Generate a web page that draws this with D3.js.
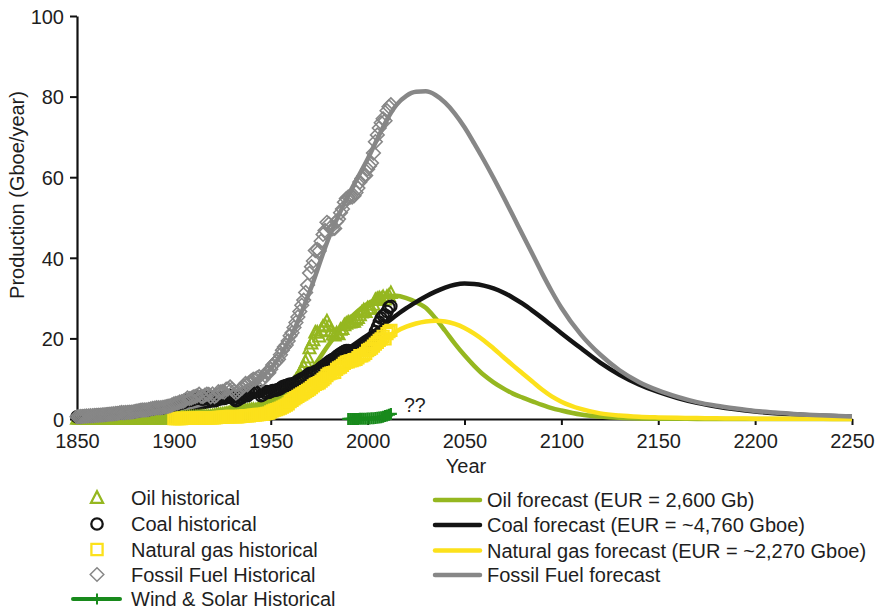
<!DOCTYPE html>
<html>
<head>
<meta charset="utf-8">
<script src="https://cdn.jsdelivr.net/npm/d3@7"></script>
<style>
  html, body { margin: 0; padding: 0; background: #fff; }
  svg text { font-family: "Liberation Sans", Arial, Helvetica, sans-serif; fill: #1e1e1e; }
</style>
</head>
<body>
<svg id="chart" width="880" height="612"></svg>
<script>
// ---------- Historical production, one value per year (Gboe/year) ----------
const histStart = 1850;   // oil, coal and fossil series start here
const gasStart = 1900;    // natural gas series starts here
const windStart = 1990;   // wind & solar series starts here

const oilHist = [
  0,0,0,0,0,0,0,0,0,0.001,
  0.001,0.002,0.003,0.003,0.002,0.003,0.004,0.003,0.004,0.004,
  0.006,0.006,0.007,0.011,0.012,0.011,0.011,0.015,0.018,0.024,
  0.03,0.03,0.03,0.03,0.03,0.04,0.05,0.05,0.05,0.06,
  0.08,0.09,0.09,0.09,0.09,0.10,0.11,0.12,0.12,0.13,
  0.15,0.17,0.18,0.19,0.22,0.22,0.21,0.26,0.29,0.30,
  0.33,0.34,0.35,0.38,0.41,0.43,0.46,0.50,0.50,0.56,
  0.69,0.76,0.86,1.02,1.01,1.07,1.10,1.26,1.32,1.49,
  1.41,1.37,1.31,1.44,1.52,1.65,1.79,2.04,1.99,2.09,
  2.15,2.22,2.09,2.26,2.59,2.60,2.75,3.02,3.43,3.40,
  3.80,4.28,4.53,4.80,5.02,5.63,6.13,6.44,6.61,7.13,
  7.67,8.19,8.88,9.54,10.31,11.06,12.02,12.90,14.10,15.22,
  17.5,18.7,19.5,21.4,21.4,20.4,22.0,22.9,23.2,24.2,
  23.0,21.7,20.9,20.7,21.2,21.0,22.1,22.3,23.2,23.6,
  23.9,23.9,24.0,24.1,24.6,25.0,25.7,26.4,26.9,26.5,
  27.4,27.4,27.3,28.3,29.5,29.7,29.9,29.8,30.2,29.6,
  30.3,30.5,31.2
];

const coalHist = [
  0.55,0.58,0.62,0.66,0.70,0.74,0.78,0.80,0.82,0.86,
  0.90,0.93,0.97,1.00,1.05,1.10,1.15,1.20,1.25,1.30,
  1.35,1.40,1.50,1.60,1.55,1.60,1.62,1.65,1.68,1.75,
  1.85,1.95,2.05,2.15,2.20,2.20,2.20,2.30,2.45,2.55,
  2.60,2.70,2.70,2.70,2.75,2.85,2.95,3.05,3.15,3.35,
  3.50,3.60,3.65,3.90,3.95,4.10,4.40,4.80,4.60,4.70,
  4.95,5.05,5.20,5.55,5.00,4.90,5.20,5.40,5.35,4.70,
  5.20,4.50,4.70,5.35,5.30,5.30,5.10,5.65,5.60,5.85,
  5.40,4.95,4.55,4.75,5.15,5.30,5.70,6.00,5.75,6.20,
  6.5,6.7,6.8,6.9,6.8,5.8,6.0,6.5,6.8,6.6,
  6.8,7.1,7.1,7.2,7.3,7.6,8.0,8.2,8.3,8.5,
  8.7,8.6,8.8,9.1,9.4,9.7,10.0,10.1,10.5,10.9,
  11.3,11.3,11.5,11.8,11.9,12.3,12.7,13.1,13.4,13.8,
  14.2,14.5,14.8,15.0,15.5,15.9,16.2,16.5,16.8,17.0,
  17.0,16.8,16.6,16.6,16.8,17.1,17.4,17.6,17.5,17.6,
  18.3,18.8,19.2,20.4,21.7,22.8,24.0,25.0,25.6,25.8,
  26.7,27.7,28.0
];

const gasHist = [
  0.10,0.11,0.12,0.12,0.13,0.14,0.15,0.16,0.17,0.18,
  0.19,0.20,0.21,0.22,0.22,0.23,0.25,0.27,0.27,0.27,
  0.30,0.30,0.33,0.38,0.42,0.45,0.48,0.52,0.56,0.62,
  0.62,0.58,0.55,0.56,0.60,0.64,0.72,0.78,0.76,0.80,
  0.88,0.94,0.98,1.05,1.12,1.14,1.15,1.25,1.38,1.45,
  1.75,2.0,2.2,2.35,2.5,2.7,2.95,3.2,3.45,3.75,
  4.3,4.6,5.0,5.3,5.6,5.9,6.2,6.5,6.8,7.1,
  7.4,7.8,8.2,8.6,8.8,9.0,9.4,9.8,10.2,10.8,
  11.2,11.4,11.5,11.6,12.3,12.7,12.9,13.3,13.8,14.1,
  14.2,14.4,14.5,14.7,14.8,15.2,15.7,15.7,15.9,16.3,
  17.0,17.3,17.6,18.1,18.6,19.0,19.5,19.9,20.5,19.9,
  21.2,21.7,22.0
];

const fossilHist = [
  0.55,0.58,0.62,0.66,0.70,0.74,0.78,0.80,0.82,0.86,
  0.90,0.93,0.97,1.00,1.05,1.10,1.15,1.20,1.25,1.30,
  1.36,1.41,1.51,1.61,1.56,1.61,1.63,1.67,1.70,1.77,
  1.88,1.98,2.08,2.18,2.23,2.24,2.25,2.35,2.50,2.61,
  2.68,2.79,2.79,2.79,2.84,2.95,3.06,3.17,3.27,3.48,
  3.75,3.88,3.95,4.21,4.30,4.46,4.76,5.22,5.06,5.18,
  5.47,5.59,5.76,6.15,5.63,5.56,5.91,6.17,6.12,5.53,
  6.19,5.56,5.89,6.75,6.73,6.82,6.68,7.43,7.48,7.96,
  7.43,6.90,6.41,6.75,7.27,7.59,8.21,8.82,8.50,9.09,
  9.53,9.86,9.87,10.21,10.51,9.54,9.90,10.77,11.61,11.45,
  12.35,13.38,13.83,14.35,14.82,15.93,17.08,17.84,18.36,19.38,
  20.67,21.39,22.68,23.94,25.31,26.66,28.22,29.50,31.40,33.22,
  36.2,37.8,39.2,41.8,42.1,41.7,44.1,45.8,46.8,48.8,
  48.4,47.6,47.2,47.3,49.0,49.6,51.2,52.1,53.8,54.7,
  55.1,55.1,55.1,55.4,56.2,57.3,58.8,59.7,60.3,60.4,
  62.0,62.8,63.5,66.0,68.8,70.5,72.2,73.5,74.5,74.0,
  76.5,77.5,78.0
];

const windSolarHist = [
  0.01,0.01,0.02,0.02,0.03,0.03,0.04,0.05,0.07,0.08,
  0.10,0.13,0.16,0.20,0.25,0.30,0.37,0.46,0.58,0.72,
  0.88,1.05,1.25
];

// ---------- Forecast curves (Gboe/year) ----------
const forecastYears = [
  1850,1860,1870,1880,1890,1900,1910,1920,1930,1940,1950,1960,1970,1980,1990,
  2000,2005,2010,2015,2020,2025,2030,2035,2040,2045,2050,2055,2060,2065,2070,
  2075,2080,2085,2090,2095,2100,
  2110,2120,2130,2140,2150,2160,2170,2180,2190,2200,2210,2220,2230,2240,2250
];
const oilForecast = [
  0,0,0,0.02,0.05,0.12,0.25,0.5,1.0,1.8,3.3,6.3,11.5,18.5,24.5,
  28.6,29.8,30.4,30.6,30.0,29.0,27.6,25.0,21.9,18.7,15.8,13.2,10.9,9.1,7.6,
  6.3,5.3,4.4,3.5,2.7,2.1,
  1.1,0.6,0.3,0.15,0.08,0.05,0.03,0.02,0.01,0,0,0,0,0,0
];
const coalForecast = [
  0.2,0.35,0.55,0.85,1.25,1.8,2.5,3.4,4.5,5.8,7.4,9.4,11.8,14.5,17.5,
  20.8,22.3,24.0,25.8,27.5,29.0,30.4,31.6,32.6,33.3,33.6,33.5,33.1,32.4,31.4,
  30.1,28.6,26.9,25.1,23.2,21.3,
  17.6,14.0,11.0,8.6,6.7,5.2,4.0,3.1,2.4,1.85,1.45,1.15,0.9,0.72,0.58
];
const gasForecast = [
  0,0,0.01,0.02,0.05,0.1,0.2,0.35,0.6,1.0,1.8,3.5,6.3,9.8,13.5,
  17.0,18.8,20.4,21.8,22.9,23.7,24.2,24.4,24.2,23.6,22.6,21.2,19.5,17.5,15.4,
  13.3,11.3,9.3,7.3,5.6,4.3,
  2.5,1.4,0.85,0.55,0.4,0.3,0.22,0.16,0.12,0.09,0.07,0.05,0.04,0.03,0.02
];
const fossilForecast = [
  0.4,0.55,0.75,1.05,1.5,2.2,3.1,4.4,6.2,8.8,12.5,20.0,31.5,45.0,55.5,
  64.5,69.5,74.3,78.0,80.2,81.2,81.3,80.4,78.5,75.8,72.4,68.4,64.2,59.8,55.2,
  50.5,45.7,41.0,36.2,31.7,27.6,
  21.0,16.0,12.1,9.2,7.1,5.5,4.2,3.3,2.6,2.0,1.6,1.25,1.0,0.8,0.65
];

// ---------- Axis ticks and legend labels ----------
const xTicks = [1850,1900,1950,2000,2050,2100,2150,2200,2250];
const yTicks = [0,20,40,60,80,100];
const histLabels = ["Oil historical","Coal historical","Natural gas historical","Fossil Fuel Historical","Wind & Solar Historical"];
const forecastLabels = ["Oil forecast (EUR = 2,600 Gb)","Coal forecast (EUR = ~4,760 Gboe)","Natural gas forecast (EUR = ~2,270 Gboe)","Fossil Fuel forecast"];

const col = { oil: "#95b720", coal: "#141414", gas: "#fce11b", fossil: "#878787", wind: "#188a1c" };

// marker shapes
const shapes = {
  triangle: "M0,-6.8L6,4.8L-6,4.8Z",
  square: "M-5.6,-5.6h11.2v11.2h-11.2Z",
  diamond: "M0,-6.8L6.8,0L0,6.8L-6.8,0Z",
  circle: d3.symbol(d3.symbolCircle, Math.PI * 5.7 * 5.7)(),
  plus: "M-6,0H6M0,-6V6"
};

const svg = d3.select("#chart");
const x = d3.scaleLinear().domain([1850, 2250]).range([77, 852]);
const y = d3.scaleLinear().domain([0, 100]).range([419, 16]);

// ---------- Axes ----------
const gx = svg.append("g").attr("transform", `translate(0,${y(0)})`)
  .call(d3.axisBottom(x).tickValues(xTicks).tickFormat(d3.format("d")).tickSize(6).tickSizeOuter(0));
gx.select(".domain").attr("stroke", "#111").attr("stroke-width", 2.2);
gx.selectAll(".tick line").attr("stroke", "#111").attr("stroke-width", 2);
gx.selectAll(".tick text").attr("y", 29).attr("dy", null)
  .style("font-size", "20px").style("font-family", "'Liberation Sans', Arial, sans-serif").attr("fill", "#1e1e1e");

const gy = svg.append("g").attr("transform", `translate(${x(1850)},0)`)
  .call(d3.axisLeft(y).tickValues(yTicks).tickSize(7).tickPadding(6).tickSizeOuter(0));
gy.select(".domain").attr("stroke", "#111").attr("stroke-width", 2.2);
gy.selectAll(".tick line").attr("stroke", "#111").attr("stroke-width", 2);
gy.selectAll(".tick text").attr("dy", "0.36em")
  .style("font-size", "20px").style("font-family", "'Liberation Sans', Arial, sans-serif").attr("fill", "#1e1e1e");

svg.append("text").attr("x", 466).attr("y", 473).attr("text-anchor", "middle")
  .style("font-size", "20px").text("Year");
svg.append("text").attr("transform", "translate(24,195) rotate(-90)").attr("text-anchor", "middle")
  .style("font-size", "20px").text("Production (Gboe/year)");

// ---------- Forecast curves ----------
const line = d3.line().x(d => x(d[0])).y(d => y(d[1])).curve(d3.curveMonotoneX);
const forecasts = [
  { vals: oilForecast, c: col.oil },
  { vals: coalForecast, c: col.coal },
  { vals: gasForecast, c: col.gas },
  { vals: fossilForecast, c: col.fossil }
];
forecasts.forEach(f => {
  svg.append("path")
    .datum(forecastYears.map((yr, i) => [yr, f.vals[i]]))
    .attr("d", line).attr("fill", "none")
    .attr("stroke", f.c).attr("stroke-width", 4.5);
});

// ---------- Historical markers ----------
function markers(vals, start, shape, color, sw) {
  svg.append("g").selectAll("path")
    .data(vals.map((v, i) => [start + i, v]))
    .join("path")
    .attr("transform", d => `translate(${x(d[0])},${y(d[1])})`)
    .attr("d", shapes[shape])
    .attr("fill", "none").attr("stroke", color).attr("stroke-width", sw);
}
markers(oilHist, histStart, "triangle", col.oil, 2);
markers(coalHist, histStart, "circle", col.coal, 2.1);
markers(gasHist, gasStart, "square", col.gas, 2.1);
markers(fossilHist, histStart, "diamond", col.fossil, 1.6);

// wind & solar: thick line with plus markers
const windPts = windSolarHist.map((v, i) => [windStart + i, v]);
svg.append("path").datum(windPts)
  .attr("d", d3.line().x(d => x(d[0])).y(d => y(d[1])))
  .attr("fill", "none").attr("stroke", col.wind).attr("stroke-width", 4.5);
svg.append("g").selectAll("path").data(windPts).join("path")
  .attr("transform", d => `translate(${x(d[0])},${y(d[1])})`)
  .attr("d", shapes.plus).attr("fill", "none").attr("stroke", col.wind).attr("stroke-width", 2.2);

svg.append("text").attr("x", 404).attr("y", 412).style("font-size", "19.5px").text("??");

// ---------- Legend ----------
const histLegend = [
  { shape: "triangle", c: col.oil, sw: 2.3, cy: 498 },
  { shape: "circle", c: col.coal, sw: 2.3, cy: 524 },
  { shape: "square", c: col.gas, sw: 2.3, cy: 549.5 },
  { shape: "diamond", c: col.fossil, sw: 1.5, cy: 574.5 },
  { shape: "wind", c: col.wind, sw: 2, cy: 599 }
];
histLegend.forEach((e, i) => {
  if (e.shape === "wind") {
    svg.append("line").attr("x1", 73).attr("x2", 120).attr("y1", e.cy).attr("y2", e.cy)
      .attr("stroke", e.c).attr("stroke-width", 4).attr("stroke-linecap", "round");
    svg.append("line").attr("x1", 97).attr("x2", 97).attr("y1", e.cy - 5.5).attr("y2", e.cy + 5.5)
      .attr("stroke", e.c).attr("stroke-width", 2);
  } else {
    svg.append("path").attr("transform", `translate(97,${e.cy})`).attr("d", shapes[e.shape])
      .attr("fill", "none").attr("stroke", e.c).attr("stroke-width", e.sw);
  }
  svg.append("text").attr("x", 131).attr("y", e.cy + 7).style("font-size", "20px").text(histLabels[i]);
});

const fcLegend = [col.oil, col.coal, col.gas, col.fossil];
const fcRows = [500, 525, 550.5, 575];
fcLegend.forEach((c, i) => {
  svg.append("line").attr("x1", 435).attr("x2", 480).attr("y1", fcRows[i]).attr("y2", fcRows[i])
    .attr("stroke", c).attr("stroke-width", 4.5).attr("stroke-linecap", "round");
  svg.append("text").attr("x", 487).attr("y", fcRows[i] + 7).style("font-size", "20px").text(forecastLabels[i]);
});
</script>
</body>
</html>
